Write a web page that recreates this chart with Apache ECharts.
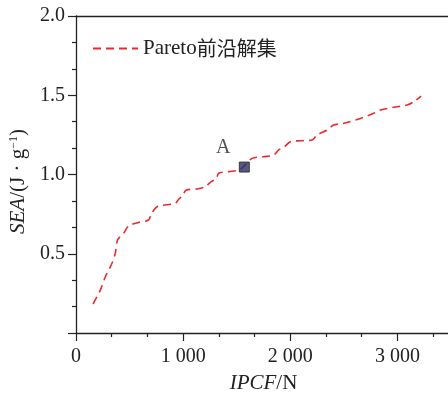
<!DOCTYPE html>
<html><head><meta charset="utf-8">
<script src="https://cdn.jsdelivr.net/npm/echarts@6/dist/echarts.min.js"></script>
<style>html,body{margin:0;padding:0;background:#fff}#c{width:448px;height:397px}</style>
</head><body><div id="c"></div>
<script>
const seriesName = 'Pareto前沿解集';
const ipcf = [159, 227, 274, 336, 367, 388, 445, 491, 575, 678, 700, 756, 927, 958, 990, 1030, 1130, 1207, 1254, 1310, 1332, 1425, 1534, 1643, 1752, 1845, 1892, 1945, 2001, 2094, 2204, 2250, 2344, 2405, 2499, 2655, 2779, 2842, 2966, 3091, 3152, 3221];
const sea  = [0.183, 0.271, 0.355, 0.44, 0.503, 0.587, 0.63, 0.675, 0.696, 0.713, 0.745, 0.797, 0.818, 0.844, 0.864, 0.902, 0.909, 0.923, 0.951, 0.976, 1.008, 1.018, 1.033, 1.102, 1.112, 1.123, 1.155, 1.175, 1.207, 1.213, 1.218, 1.249, 1.281, 1.312, 1.323, 1.354, 1.386, 1.407, 1.424, 1.438, 1.459, 1.495];
const pointA = {label: 'A', ipcf: 1571, sea: 1.047};
const xTicks = {min: 0, max: 3500, interval: 1000};
const yTicks = {min: 0, max: 2.0, interval: 0.5};

const serif = '"Liberation Serif","Times New Roman",serif';
const txt = '#222';
const chart = echarts.init(document.getElementById('c'));
const axisCommon = {
  axisLine: {show: true, lineStyle: {color: '#222', width: 1.3}},
  axisTick: {show: true, inside: false, length: 8, lineStyle: {color: '#222', width: 1.2}},
  minorTick: {show: true, splitNumber: 3, length: 4, lineStyle: {color: '#222', width: 1.2}},
  splitLine: {show: false},
  axisLabel: {color: txt, fontFamily: serif, fontSize: 20}
};
chart.setOption({
  animation: false,
  grid: {left: 76, width: 375, top: 16, bottom: 64, containLabel: false, outerBoundsMode: 'none'},
  legend: {
    data: [seriesName], left: 87, top: 33, itemWidth: 45, itemHeight: 14, itemGap: 6,
    itemStyle: {opacity: 0},
    formatter: function () { return '{a|Pareto}{b|前沿解集}'; },
    textStyle: {rich: {
      a: {fontFamily: serif, fontSize: 21, color: txt},
      b: {fontFamily: '"Noto Sans CJK SC",sans-serif', fontSize: 20, color: txt}
    }}
  },
  xAxis: [Object.assign({}, axisCommon, {
    type: 'value', min: xTicks.min, max: xTicks.max, interval: xTicks.interval,
    axisLabel: Object.assign({}, axisCommon.axisLabel, {margin: 14,
      formatter: v => v === 0 ? '0' : (v % 1000 === 0 ? String(v / 1000) + ' 000' : '')}),
    name: '{i|IPCF}{n|/N}', nameLocation: 'middle', nameGap: 40,
    nameTextStyle: {rich: {
      i: {fontFamily: serif, fontStyle: 'italic', fontSize: 21, color: txt},
      n: {fontFamily: serif, fontSize: 21, color: txt}
    }}
  }), {
    type: 'value', position: 'top', min: xTicks.min, max: xTicks.max,
    axisLine: {show: true, lineStyle: {color: '#222', width: 1.3}},
    axisTick: {show: false}, axisLabel: {show: false}, splitLine: {show: false}
  }],
  yAxis: Object.assign({}, axisCommon, {
    type: 'value', min: yTicks.min, max: yTicks.max, interval: yTicks.interval,
    axisLabel: Object.assign({}, axisCommon.axisLabel, {margin: 11,
      formatter: v => v === 0 ? '' : v.toFixed(1)}),
    name: '{i|SEA}{n|/(J · g}{s|−1}{n|)}', nameLocation: 'middle', nameGap: 45, nameRotate: 90,
    nameTextStyle: {padding: [0, 0, 0, -14], rich: {
      i: {fontFamily: serif, fontStyle: 'italic', fontSize: 21, color: txt, verticalAlign: 'bottom'},
      n: {fontFamily: serif, fontSize: 21, color: txt, verticalAlign: 'bottom'},
      s: {fontFamily: serif, fontSize: 12, color: txt, verticalAlign: 'top', padding: [0, 0, 7, 0]}
    }}
  }),
  series: [{
    name: seriesName, type: 'line', data: ipcf.map((x, i) => [x, sea[i]]),
    showSymbol: false, symbol: 'none', smooth: 0.3,
    lineStyle: {color: '#ec2a2c', width: 1.6, type: [8, 5]},
    itemStyle: {color: '#ec2a2c'}
  }, {
    name: 'A', type: 'scatter', data: [[pointA.ipcf, pointA.sea]],
    symbol: 'rect', symbolSize: 10,
    itemStyle: {color: '#2c2f66', borderColor: '#222', borderWidth: 1},
    label: {show: true, formatter: pointA.label, position: 'top', offset: [-21, 0], distance: 4,
      fontFamily: serif, fontSize: 20, color: txt},
    z: 5
  }]
});
</script></body></html>
